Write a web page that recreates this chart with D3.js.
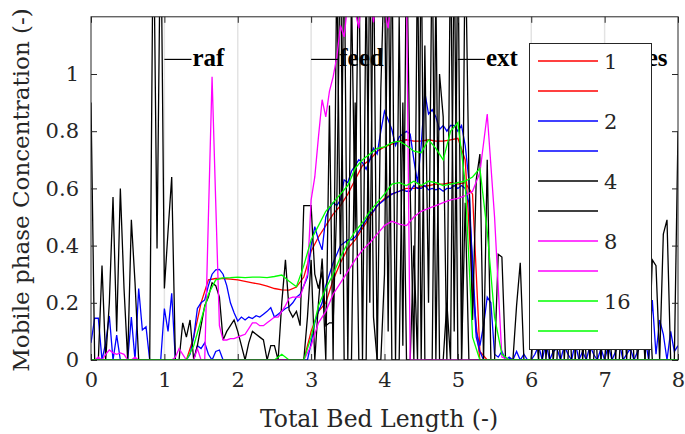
<!DOCTYPE html>
<html><head><meta charset="utf-8">
<script src="https://cdn.jsdelivr.net/npm/d3@7/dist/d3.min.js"></script>
<style>body{margin:0;background:#fff;}svg{display:block;}</style>
</head><body>
<svg id="chart" width="685" height="434"></svg>
<script>
// ---------- data ----------
const xTicks = [0,1,2,3,4,5,6,7,8];
const yTicks = [0,0.2,0.4,0.6,0.8,1];
const yTickLabels = ["0","0.2","0.4","0.6","0.8","1"];
const zoneLabels = ["raf","feed","ext","des"];
const zoneStarts = [1,3,5,7];
const legendLabels = ["1","","2","","4","","8","","16",""];
const seriesColors = ["#ff0000","#ff0000","#0000ff","#0000ff","#000000","#000000","#ff00ff","#ff00ff","#00ff00","#00ff00"];

// sample positions along the bed: coarse (step 0.1) and fine (step 0.05)
const xCoarse = d3.range(81).map(i => i / 10);
const xFine = d3.range(161).map(i => i / 20);

// red (1) - coarse grid
const red1 = [
 0,0,0,0,0,0,0,0,0,0,
 0,0,0,0,0.08,0.20,0.28,0.285,0.285,0.283,
 0.28,0.275,0.27,0.265,0.258,0.25,0.245,0.244,0.255,0.29,
 0.38,0.43,0.47,0.51,0.54,0.58,0.63,0.68,0.70,0.73,
 0.745,0.755,0.765,0.77,0.765,0.765,0.77,0.765,0.765,0.77,
 0.775,0.70,0.25,0,0,0,0,0,0,0,
 0,0,0,0,0,0,0,0,0,0,
 0,0,0,0,0,0,0,0,0,0,
 0];
const red2 = [
 0,0,0,0,0,0,0,0,0,0,
 0,0,0,0,0,0,0,0,0,0,
 0,0,0,0,0,0,0,0,0,0,
 0.10,0.17,0.20,0.28,0.34,0.39,0.42,0.46,0.50,0.54,
 0.565,0.58,0.59,0.60,0.60,0.605,0.61,0.615,0.615,0.62,
 0.615,0.62,0.58,0.03,0,0,0,0,0,0,
 0,0,0,0,0,0,0,0,0,0,
 0,0,0,0,0,0,0,0,0,0,
 0];
// green (16) - coarse grid
const green1 = [
 0,0,0,0,0,0,0,0,0,0,
 0,0,0,0,0.05,0.14,0.23,0.28,0.287,0.288,
 0.29,0.288,0.29,0.29,0.288,0.292,0.297,0.275,0.256,0.33,
 0.42,0.47,0.52,0.55,0.58,0.61,0.67,0.70,0.72,0.74,
 0.745,0.76,0.765,0.75,0.73,0.725,0.77,0.74,0.70,0.80,
 0.83,0.62,0.08,0,0,0,0,0,0,0,
 0,0,0,0,0,0,0,0,0,0,
 0,0,0,0,0,0,0,0,0,0,
 0];
const green2 = [
 0,0,0,0,0,0,0,0,0,0,
 0,0,0,0,0,0,0,0,0,0,
 0,0,0,0,0,0,0.02,0,0,0,
 0.08,0.19,0.25,0.30,0.36,0.41,0.45,0.48,0.52,0.55,
 0.58,0.615,0.62,0.61,0.625,0.61,0.625,0.62,0.61,0.615,
 0.62,0.625,0.64,0.67,0.45,0.15,0.02,0,0,0,
 0,0,0,0,0,0,0,0,0,0,
 0,0,0,0,0,0,0,0,0,0,
 0];
// magenta (8), second curve - coarse grid
const magenta2 = [
 0,0,0,0,0,0,0,0,0,0,
 0,0,0,0,0,0,0,0,0,0,
 0,0,0,0,0,0,0,0,0,0,
 0.05,0.13,0.17,0.23,0.27,0.31,0.35,0.385,0.41,0.44,
 0.47,0.485,0.475,0.47,0.50,0.52,0.53,0.54,0.55,0.56,
 0.565,0.575,0.59,0.655,0.86,0.50,0.01,0,0,0,
 0,0,0,0,0,0,0,0,0,0,
 0,0,0,0,0,0,0,0,0,0,
 0];
// blue (2) - fine grid
const blue1 = [
 0.06,0.146,0.146,0,0.06,0.154,0,0.087,0,0, 0,0.15,0,0.25,0.105,0.116,0,0,0,0,
 0.18,0.10,0.233,0,0,0,0,0.02,0.08,0.18, 0.20,0.21,0.26,0.30,0.315,0.317,0.30,0.26,0.20,0.165,
 0.136,0.15,0.14,0.15,0.145,0.155,0.15,0.16,0.17,0.183, 0.15,0.16,0.17,0.18,0.186,0.20,0.22,0.23,0.26,0.29,
 0.40,0.466,0.42,0.385,0.50,0.53,0.55,0.54,0.56,0.63, 0.62,0.66,0.68,0.70,0.69,0.667,0.70,0.74,0.72,0.80,
 0.87,0.84,0.806,0.75,0.78,0.79,0.80,0.79,0.70,0.62, 0.75,0.935,0.86,0.875,0.85,0.806,0.82,0.80,0.82,0.82,
 0.80,0.82,0.75,0.63,0.30,0.08,0.03,0,0,0, 0,0,0,0,0,0,0,0,0,0,
 0,0,0,0,0,0,0,0,0,0, 0,0,0,0,0,0,0,0,0,0,
 0,0,0,0,0,0,0,0,0,0, 0,0,0,0,0,0,0,0,0,0,
 0];
const blue2 = [
 0,0,0,0,0,0,0,0,0,0, 0,0,0,0,0,0,0,0,0,0,
 0,0,0,0,0,0,0,0,0,0.05, 0.04,0.06,0.02,0,0.03,0.035,0,0,0,0,
 0,0,0,0,0,0,0,0,0,0, 0,0,0,0,0,0,0,0,0,0,
 0.06,0.13,0.17,0.20,0.26,0.30,0.34,0.37,0.40,0.41, 0.42,0.42,0.43,0.45,0.47,0.49,0.51,0.52,0.54,0.55,
 0.56,0.57,0.58,0.585,0.59,0.595,0.59,0.59,0.61,0.60, 0.60,0.61,0.595,0.60,0.595,0.60,0.59,0.60,0.60,0.61,
 0.60,0.61,0.60,0.55,0.35,0.10,0.05,0.12,0.22,0.20, 0.02,0.01,0.03,0,0.01,0,0.03,0,0.02,0,
 0,0.02,0.05,0,0.06,0,0.03,0.04,0,0.05, 0.02,0,0.06,0,0.03,0,0.05,0.02,0,0.04,
 0,0.05,0,0.03,0.06,0,0.02,0.04,0,0.03, 0.05,0.08,0,0.21,0.02,0.14,0.09,0,0.10,0.03,
 0.05];
// black (4) - fine grid
const black1 = [
 0.90,0,0,0.33,0,0.20,0.57,0.10,0.60,0.25, 0,0.49,0.27,0,0,0,0,1.6,0.39,1.6,
 0.25,0.45,0.64,0,0,0.13,0.08,0.14,0,0.05, 0.12,0.19,0.22,0.27,0.26,0.22,0.07,0.10,0.12,0.14,
 0.10,0.05,0,0.06,0.10,0.09,0.08,0.07,0,0.05, 0.05,0,0.20,0.35,0.175,0.15,0.17,0.12,0.54,0.54,
 0.54,0.30,0.25,0.31,0,0.89,0,1.4,0.3,1.5, 0,1.3,0.45,1.5,0,1.35,0.2,1.5,0,0.95,
 1.4,0.1,1.5,0,1.2,0.05,1.5,0.6,0,1.45, 0,1.1,0.2,1.5,0,1.0,0.85,0,1.5,0.1,
 1.5,0,1.5,0.65,0.14,0.63,0.72,0,0.70,0, 0,0.37,0.36,0,0,0,0.19,0.34,0,0,
 0,0.3,0,0.45,0,0.2,0,0,0.35,0, 0.25,0,0,0.4,0,0.15,0,0.3,0,0,
 0.2,0,0.35,0,0,0.25,0,0.3,0,0, 0.2,0,0,0.35,0.33,0,0.44,0.49,0,0,
 0.8];
const black2 = [
 0,0,0,0,0,0,0,0,0,0, 0,0,0,0,0,0,0,0,0,0,
 0,0,0,0,0,0,0,0,0,0, 0,0,0,0,0,0,0,0,0,0,
 0,0,0,0,0,0,0,0,0,0, 0,0,0,0,0,0,0,0,0,0.15,
 0.35,0,0.2,0.355,0.12,0.13,0.13,0.55,1.5,0, 0,0,0.9,0,0,0,1.5,0.15,0,0,
 0.3,1.5,0,0,0,0.9,0,0,0.4,0, 1.5,0,0,0,1.3,0,0,0.2,0,1.5,
 0,0,0.55,0,0,0,0,0,0,0, 0,0,0,0,0,0,0,0,0,0,
 0,0.2,0,0,0.3,0,0,0.15,0,0, 0,0.35,0,0,0.2,0,0,0,0.25,0,
 0,0.15,0,0,0.3,0,0,0,0.2,0, 0,0,0.25,0,0,0,0,0,0,0,
 0];
// magenta (8), first curve - fine grid
const magenta1 = [
 0,0,0.01,0,0.02,0.035,0.025,0.02,0.025,0.02, 0,0,0.01,0,0,0,0,0,0,0,
 0,0,0,0.01,0.04,0.02,0,0,0,0.04, 0,0,0.5,0.99,0.55,0.12,0.07,0.07,0.075,0.075,
 0.08,0.085,0.09,0.11,0.13,0.13,0.12,0.12,0.13,0.14, 0.15,0.15,0.17,0.19,0.215,0.22,0.22,0.22,0.26,0.30,
 0.56,0.64,0.78,0.91,0.85,0.94,0.99,1.06,1.17,1.13, 1.25,1.28,1.22,1.16,1.3,1.25,1.3,1.18,1.3,1.25,
 1.22,1.16,1.3,1.25,1.3,1.28,1.3,0,0,0, 0,0,0,0,0,0,0,0,0,0,
 0,0,0,0,0,0,0,0,0,0, 0,0,0,0,0,0,0,0,0,0,
 0,0,0,0,0,0,0,0,0,0, 0,0,0,0,0,0,0,0,0,0,
 0,0,0,0,0,0,0,0,0,0, 0,0,0,0,0,0,0,0,0,0,
 0];

const seriesList = [
  {x: xCoarse, y: red1}, {x: xCoarse, y: red2},
  {x: xFine, y: blue1}, {x: xFine, y: blue2},
  {x: xFine, y: black1}, {x: xFine, y: black2},
  {x: xFine, y: magenta1}, {x: xCoarse, y: magenta2},
  {x: xCoarse, y: green1}, {x: xCoarse, y: green2}
];

// ---------- drawing ----------
const svg = d3.select("#chart");
const axisColor = "#262626";
const x = d3.scaleLinear().domain([0, 8]).range([91, 678]);
const y = d3.scaleLinear().domain([0, 1.2]).range([360, 16.8]);
const serif = "'DejaVu Serif', serif";

svg.append("rect").attr("width", 685).attr("height", 434).attr("fill", "#fff");

// vertical grid
svg.append("g").selectAll("line").data(xTicks.slice(1, -1)).join("line")
  .attr("x1", d => x(d)).attr("x2", d => x(d))
  .attr("y1", y(0)).attr("y2", y(1.2))
  .attr("stroke", "#e3e3e3").attr("stroke-width", 1.5);

svg.append("clipPath").attr("id", "clip").append("rect")
  .attr("x", x(0)).attr("y", y(1.2)).attr("width", x(8) - x(0)).attr("height", y(0) - y(1.2));

const plot = svg.append("g").attr("clip-path", "url(#clip)");
seriesList.forEach((s, k) => {
  const line = d3.line().x((d, i) => x(s.x[i])).y(d => y(d));
  plot.append("path").datum(s.y)
    .attr("d", line).attr("fill", "none")
    .attr("stroke", seriesColors[k]).attr("stroke-width", 1.3)
    .attr("stroke-linejoin", "miter");
});

// zone annotations
const annY = 1.051;
zoneStarts.forEach((z, i) => {
  svg.append("line").attr("x1", x(z)).attr("x2", x(z + 0.37))
    .attr("y1", y(annY)).attr("y2", y(annY))
    .attr("stroke", "#000").attr("stroke-width", 1.2);
  svg.append("text").attr("x", x(z + 0.37) + 1).attr("y", y(annY) + 7)
    .attr("font-family", "'Liberation Serif', serif").attr("font-weight", "bold")
    .attr("font-size", 25).attr("fill", "#000").text(zoneLabels[i]);
});

// axes (box, ticks)
const axes = svg.append("g");
axes.append("rect").attr("x", x(0)).attr("y", y(1.2))
  .attr("width", x(8) - x(0)).attr("height", y(0) - y(1.2))
  .attr("fill", "none").attr("stroke", axisColor).attr("stroke-width", 1);

const bottomAxis = d3.axisBottom(x).tickValues(xTicks).tickSize(-6).tickPadding(12).tickFormat(d3.format("d"));
const topAxis = d3.axisTop(x).tickValues(xTicks).tickSize(-6).tickFormat("");
const leftAxis = d3.axisLeft(y).tickValues(yTicks).tickSize(-6).tickPadding(12).tickFormat((d, i) => yTickLabels[i]);
const rightAxis = d3.axisRight(y).tickValues(yTicks).tickSize(-6).tickFormat("");

function styleAxis(g) {
  g.select(".domain").remove();
  g.selectAll("line").attr("stroke", axisColor);
  g.selectAll("text").attr("fill", axisColor).attr("font-family", serif).attr("font-size", 21);
}
axes.append("g").attr("transform", `translate(0,${y(0)})`).call(bottomAxis).call(styleAxis);
axes.append("g").attr("transform", `translate(0,${y(1.2)})`).call(topAxis).call(styleAxis);
axes.append("g").attr("transform", `translate(${x(0)},0)`).call(leftAxis).call(styleAxis);
axes.append("g").attr("transform", `translate(${x(8)},0)`).call(rightAxis).call(styleAxis);

// axis labels
svg.append("text").attr("x", 379).attr("y", 427).attr("text-anchor", "middle")
  .attr("font-family", serif).attr("font-size", 23.5).attr("fill", axisColor)
  .text("Total Bed Length (-)");
svg.append("text").attr("transform", "translate(29,190) rotate(-90)").attr("text-anchor", "middle")
  .attr("font-family", serif).attr("font-size", 23).attr("fill", axisColor)
  .text("Mobile phase Concentration (-)");

// legend
const lg = svg.append("g");
lg.append("rect").attr("x", 529.5).attr("y", 43.5).attr("width", 122).attr("height", 306)
  .attr("fill", "#fff").attr("stroke", axisColor).attr("stroke-width", 1);
legendLabels.forEach((lab, i) => {
  const yy = 61 + 30 * i;
  lg.append("line").attr("x1", 538).attr("x2", 598).attr("y1", yy).attr("y2", yy)
    .attr("stroke", seriesColors[i]).attr("stroke-width", 1.3);
  lg.append("text").attr("x", 604).attr("y", yy + 7.5)
    .attr("font-family", serif).attr("font-size", 21).attr("fill", axisColor).text(lab);
});
</script>
</body></html>
